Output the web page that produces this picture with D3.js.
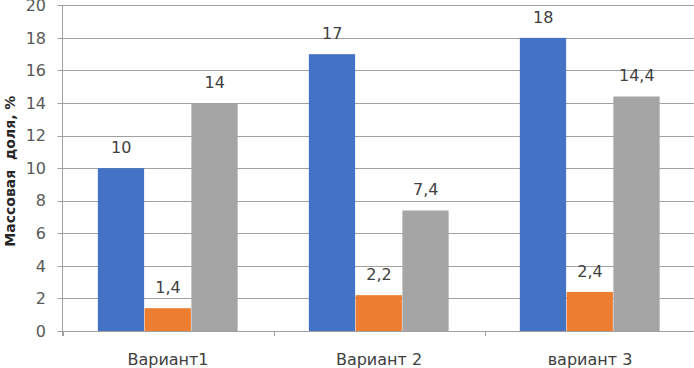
<!DOCTYPE html>
<html><head><meta charset="utf-8">
<script src="https://cdn.jsdelivr.net/npm/d3@7"></script>
<style>body{margin:0;background:#fff}svg{display:block}</style>
</head><body>
<svg id="c" width="694" height="368"></svg>
<script>
const categories = ["Вариант1", "Вариант 2", "вариант 3"];
const series1 = [10, 17, 18];
const series2 = [1.4, 2.2, 2.4];
const series3 = [14, 7.4, 14.4];
const seriesColors = ["#4472C4", "#ED7D31", "#A5A5A5"];
const yTicks = [0, 2, 4, 6, 8, 10, 12, 14, 16, 18, 20];
const yLabel = "Массовая  доля, %";

const FONT = "DejaVu Sans, Verdana, sans-serif";
const svg = d3.select("#c");
const x0 = 62.5, x1 = 695.5, yBase = 331, yTop = 5.3;
const x = d3.scaleBand().domain(categories).range([x0, x1]).paddingInner(0.335).paddingOuter(0.1675);
const y = d3.scaleLinear().domain([0, 20]).range([yBase, yTop]);
const series = [series1, series2, series3];
const xs = d3.scaleBand().domain([0, 1, 2]).range([0, x.bandwidth()]);

// gridlines
svg.append("g").selectAll("line").data(yTicks).join("line")
  .attr("x1", x0 - 5).attr("x2", 694)
  .attr("y1", d => Math.round(y(d)) + 0.5).attr("y2", d => Math.round(y(d)) + 0.5)
  .attr("stroke", "#a0a0a0").attr("stroke-width", 1);

// y axis line
svg.append("line").attr("x1", x0).attr("x2", x0).attr("y1", yTop).attr("y2", yBase + 5)
  .attr("stroke", "#a0a0a0");

// category boundary ticks
const step = x.step();
svg.append("g").selectAll("line").data(d3.range(4)).join("line")
  .attr("x1", i => Math.round(x0 + i * step) + 0.5).attr("x2", i => Math.round(x0 + i * step) + 0.5)
  .attr("y1", yBase).attr("y2", yBase + 5).attr("stroke", "#a0a0a0");

// y tick labels
svg.append("g").selectAll("text").data(yTicks).join("text")
  .attr("x", 46).attr("y", d => y(d)).attr("dy", "0.36em")
  .attr("text-anchor", "end").attr("font-family", FONT)
  .attr("font-size", 16).attr("fill", "#595959").text(d => d);

// bars
series.forEach((vals, si) => {
  const g = svg.append("g");
  g.selectAll("rect").data(vals).join("rect")
    .attr("x", (d, i) => x(categories[i]) + xs(si))
    .attr("y", d => y(d))
    .attr("width", xs.bandwidth() - 0.5)
    .attr("height", d => yBase - y(d))
    .attr("fill", seriesColors[si]);
  g.selectAll("text").data(vals).join("text")
    .attr("x", (d, i) => x(categories[i]) + xs(si) + xs.bandwidth() / 2)
    .attr("y", d => y(d) - 15)
    .attr("text-anchor", "middle").attr("font-family", FONT)
    .attr("font-size", 16).attr("fill", "#404040")
    .text(d => String(d).replace(".", ","));
});

// category labels
svg.append("g").selectAll("text").data(categories).join("text")
  .attr("x", d => x(d) + x.bandwidth() / 2).attr("y", 365)
  .attr("text-anchor", "middle").attr("font-family", FONT)
  .attr("font-size", 16).attr("fill", "#404040").text(d => d);

// y axis title
svg.append("text").attr("transform", "translate(15," + ((yTop + yBase) / 2 + 3) + ") rotate(-90)")
  .attr("text-anchor", "middle").attr("font-family", FONT)
  .attr("font-size", 14).attr("font-weight", "bold").attr("fill", "#262626")
  .style("white-space", "pre").text(yLabel);
</script>
</body></html>
